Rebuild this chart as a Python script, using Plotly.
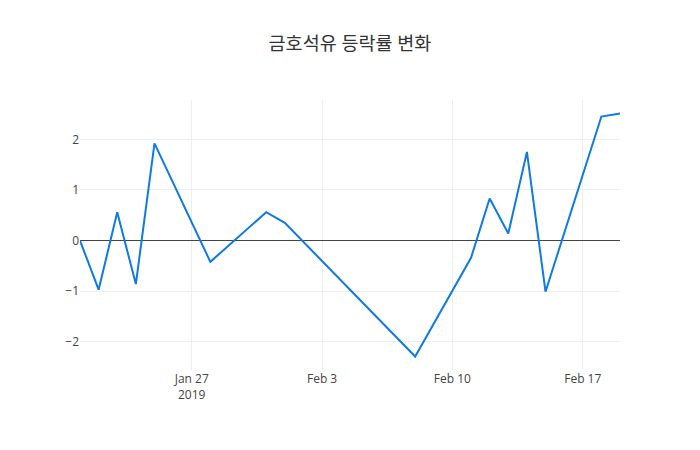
import plotly.graph_objects as go

dates = ["2019-01-21", "2019-01-22", "2019-01-23", "2019-01-24", "2019-01-25",
         "2019-01-28", "2019-01-31", "2019-02-01", "2019-02-08", "2019-02-11",
         "2019-02-12", "2019-02-13", "2019-02-14", "2019-02-15", "2019-02-18",
         "2019-02-19"]
changes = [0.0, -0.97, 0.56, -0.86, 1.92, -0.42, 0.56, 0.35, -2.29, -0.34,
           0.83, 0.14, 1.75, -1.01, 2.45, 2.51]

fig = go.Figure(
    go.Scatter(x=dates, y=changes, mode="lines",
               line=dict(color="#0d7ae6", width=2))
)
fig.update_layout(
    template="none",
    width=700, height=450,
    title=dict(text="금호석유 등락률 변화", x=0.5, xanchor="center",
               font=dict(size=18.5, color="#333")),
    font=dict(family="Open Sans, Noto Sans CJK KR, sans-serif", color="#444"),
    margin=dict(l=80, r=80, t=100, b=80),
    paper_bgcolor="white", plot_bgcolor="white",
    xaxis=dict(showgrid=True, gridcolor="#eee", zeroline=False, showline=False),
    yaxis=dict(showgrid=True, gridcolor="#eee", zeroline=True,
               zerolinecolor="#444", zerolinewidth=1, showline=False),
)
fig.write_html("out.html")
